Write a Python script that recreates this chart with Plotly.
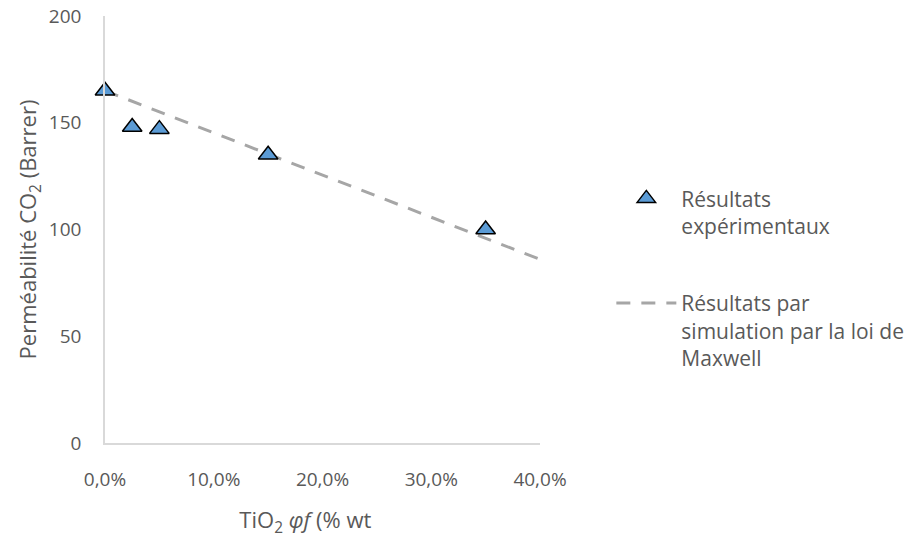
import plotly.graph_objects as go

# Data
exp_x = [0.0, 0.025, 0.05, 0.15, 0.35]
exp_y = [165, 148, 147, 135, 100]
sim_x = [0.0, 0.40]
sim_y = [165, 86]
y_ticks = [0, 50, 100, 150, 200]
x_ticks = [0.0, 0.1, 0.2, 0.3, 0.4]
x_tick_labels = ["0,0%", "10,0%", "20,0%", "30,0%", "40,0%"]

FONT = "Open Sans, Liberation Sans, sans-serif"
GRAY = "#595959"

fig = go.Figure()
fig.add_trace(go.Scatter(
    x=sim_x, y=sim_y, mode="lines", legendgroup="b", legendrank=2,
    name="Résultats par<br>simulation par la loi de<br>Maxwell",
    line=dict(color="#A6A6A6", width=3, dash="14px,11px"),
    cliponaxis=False,
))
fig.add_trace(go.Scatter(
    x=exp_x, y=exp_y, mode="markers", legendgroup="a", legendrank=1,
    name="Résultats<br>expérimentaux",
    marker=dict(symbol="triangle-up", size=17, color="#5B9BD5",
                line=dict(color="black", width=1.5)),
    cliponaxis=False,
))

fig.update_layout(
    width=906, height=538,
    margin=dict(l=105, r=366, t=16, b=95, autoexpand=False),
    plot_bgcolor="white", paper_bgcolor="white",
    font=dict(family=FONT, size=19, color=GRAY),
    showlegend=True,
    legend=dict(x=1.164, y=0.62, xanchor="left", yanchor="top",
                traceorder="grouped", tracegroupgap=47, valign="top",
                font=dict(family=FONT, size=21, color=GRAY),
                itemwidth=60),
    xaxis=dict(range=[0, 0.4], tickvals=x_ticks, ticktext=x_tick_labels,
               showgrid=False, zeroline=False, showline=True,
               linecolor="#D9D9D9", linewidth=1.5, ticks="",
               ticklabelstandoff=18, automargin=False,
               tickfont=dict(size=19),
               title=dict(text="TiO<sub>2</sub> <i>φf</i> (% wt" + "&nbsp;" * 6,
                          standoff=33, font=dict(size=22))),
    yaxis=dict(range=[0, 200], tickvals=y_ticks,
               showgrid=False, zeroline=False, showline=True,
               linecolor="#D9D9D9", linewidth=1.5, ticks="",
               ticklabelstandoff=18, automargin=False,
               tickfont=dict(size=19),
               title=dict(text="Perméabilité CO<sub>2</sub> (Barrer)", standoff=6,
                          font=dict(size=22))),
)
fig.write_html("out.html", config={"displayModeBar": False},
               post_script="document.body.style.margin='0';")
